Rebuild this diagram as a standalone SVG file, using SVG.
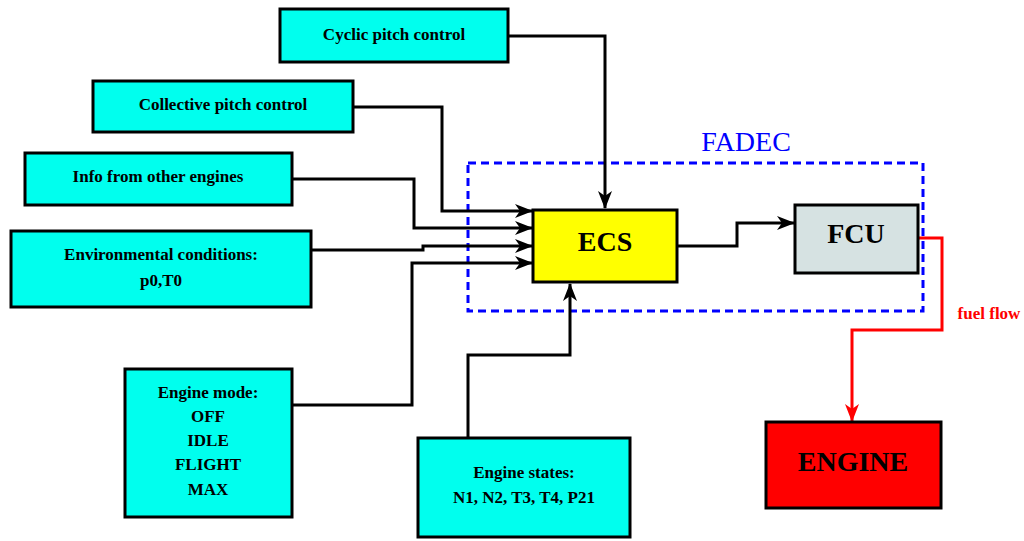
<svg xmlns="http://www.w3.org/2000/svg" width="1024" height="541" viewBox="0 0 1024 541">
<defs>
<style>
.box{stroke:#000;stroke-width:3}
.in{fill:#00ffee}
.t{font-family:"Liberation Serif",serif;font-weight:bold;font-size:17px;fill:#000;text-anchor:middle;dominant-baseline:central}
.big{font-size:28px}
.c{fill:none;stroke:#000;stroke-width:3}
.r{fill:none;stroke:#ff0000;stroke-width:3}
</style>
<marker id="ah" viewBox="0 0 18 14" refX="17" refY="7" markerWidth="18" markerHeight="14" markerUnits="userSpaceOnUse" orient="auto">
<path d="M0,0 L18,7 L0,14 L5,7 Z" fill="#000"/>
</marker>
<marker id="ahr" viewBox="0 0 18 14" refX="17" refY="7" markerWidth="18" markerHeight="14" markerUnits="userSpaceOnUse" orient="auto">
<path d="M0,0 L18,7 L0,14 L5,7 Z" fill="#ff0000"/>
</marker>
</defs>
<rect width="1024" height="541" fill="#fff"/>
<g id="fadec">
<rect x="468" y="163" width="455" height="148" fill="none" stroke="#0000ff" stroke-width="3" stroke-dasharray="8,5"/>
<text x="746" y="141" font-family="Liberation Serif,serif" font-size="28" fill="#0000ff" text-anchor="middle" dominant-baseline="central">FADEC</text>
</g>
<g id="connectors">
<polyline class="c" points="508,36 605,36 605,208" marker-end="url(#ah)"/>
<polyline class="c" points="353,107 442,107 442,211 532,211" marker-end="url(#ah)"/>
<polyline class="c" points="292,179 414,179 414,228 532,228" marker-end="url(#ah)"/>
<polyline class="c" points="311,250 423,250 423,246 532,246" marker-end="url(#ah)"/>
<polyline class="c" points="292,405 412,405 412,263 532,263" marker-end="url(#ah)"/>
<polyline class="c" points="468,437 468,355 570,355 570,284" marker-end="url(#ah)"/>
<polyline class="c" points="677,246 737,246 737,223 794,223" marker-end="url(#ah)"/>
<polyline class="r" points="918,238 942,238 942,330 852,330 852,421" marker-end="url(#ahr)"/>
<text x="989" y="313" font-family="Liberation Serif,serif" font-weight="bold" font-size="17" fill="#ff0000" text-anchor="middle" dominant-baseline="central">fuel flow</text>
</g>
<g id="cyclic"><rect class="box in" x="280" y="9" width="228" height="53"/><text class="t" x="394" y="34">Cyclic pitch control</text></g>
<g id="collective"><rect class="box in" x="93" y="81" width="260" height="51"/><text class="t" x="223" y="104">Collective pitch control</text></g>
<g id="info"><rect class="box in" x="25" y="153" width="267" height="52"/><text class="t" x="158" y="176">Info from other engines</text></g>
<g id="env"><rect class="box in" x="11" y="231" width="300" height="76"/><text class="t" x="161" y="254">Environmental conditions:</text><text class="t" x="161" y="280">p0,T0</text></g>
<g id="mode"><rect class="box in" x="125" y="369" width="167" height="148"/><text class="t" x="208" y="392">Engine mode:</text><text class="t" x="208" y="416">OFF</text><text class="t" x="208" y="440">IDLE</text><text class="t" x="208" y="464">FLIGHT</text><text class="t" x="208" y="489">MAX</text></g>
<g id="states"><rect class="box in" x="418" y="438" width="212" height="99"/><text class="t" x="524" y="472">Engine states:</text><text class="t" x="524" y="497">N1, N2, T3, T4, P21</text></g>
<g id="ecs"><rect class="box" fill="#ffff00" x="533" y="210" width="144" height="72"/><text class="t big" x="605" y="241">ECS</text></g>
<g id="fcu"><rect class="box" fill="#d6e2e2" x="795" y="205" width="123" height="68"/><text class="t big" x="856" y="233">FCU</text></g>
<g id="engine"><rect class="box" fill="#ff0000" x="766" y="422" width="175" height="86"/><text class="t big" x="853" y="461">ENGINE</text></g>
</svg>
